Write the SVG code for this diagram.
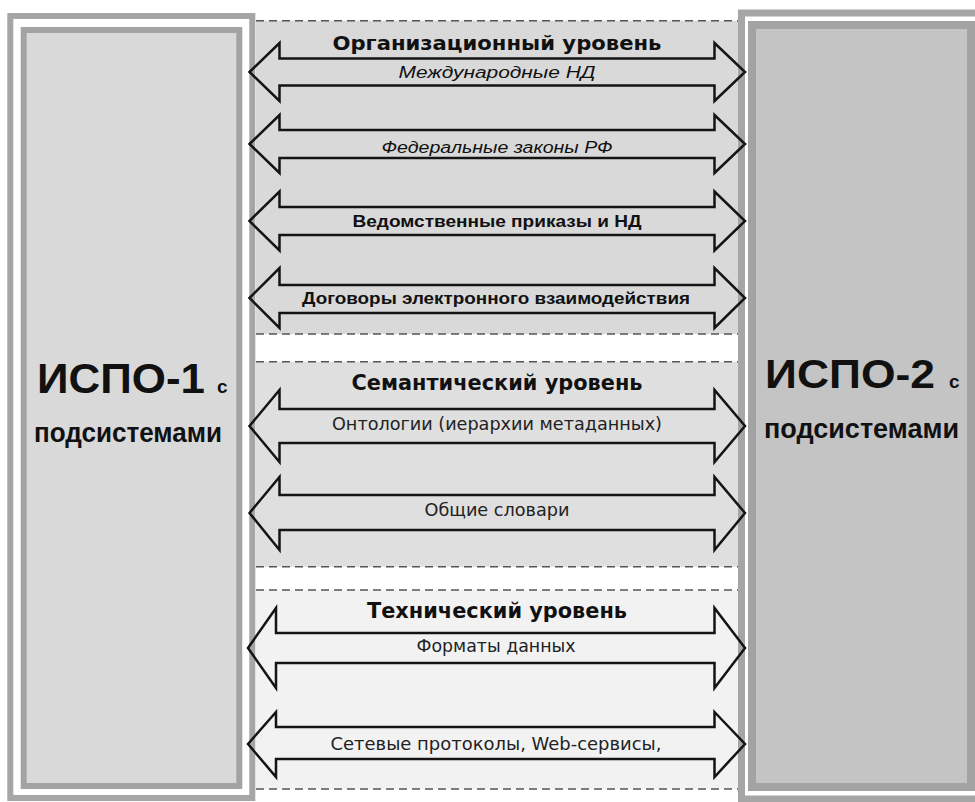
<svg xmlns="http://www.w3.org/2000/svg" width="975" height="802" viewBox="0 0 975 802">
  <style>
    .outer { fill: #ffffff; stroke: #a6a6a6; }
    .dash { stroke: #555555; stroke-width: 1.5; stroke-dasharray: 8 5; fill: none; }
    .arrow { fill: none; stroke: #141414; stroke-width: 2.5; stroke-linejoin: miter; }
    .big { font-family: "Liberation Sans", Arial, sans-serif; font-weight: bold; fill: #111; }
    .title { font-family: "DejaVu Sans", Verdana, sans-serif; font-weight: bold; fill: #111; text-anchor: middle; }
    .org { font-family: "Liberation Sans", Arial, sans-serif; fill: #111; text-anchor: middle; font-size: 16px; }
    .lbl { font-family: "DejaVu Sans", Verdana, sans-serif; fill: #222; text-anchor: middle; font-size: 17.5px; }
  </style>
  <rect width="975" height="802" fill="#ffffff"/>

  <g id="sections">
    <rect x="256" y="20.7" width="483" height="313.3" fill="#d9d9d9"/>
    <rect x="256" y="361.7" width="483" height="205" fill="#dfdfdf"/>
    <rect x="256" y="590" width="483" height="199" fill="#f2f2f2"/>
    <line class="dash" x1="256" y1="20.7" x2="739" y2="20.7"/>
    <line class="dash" x1="256" y1="334" x2="739" y2="334"/>
    <line class="dash" x1="256" y1="361.7" x2="739" y2="361.7"/>
    <line class="dash" x1="256" y1="566.7" x2="739" y2="566.7"/>
    <line class="dash" x1="256" y1="590" x2="739" y2="590"/>
    <line class="dash" x1="256" y1="789" x2="739" y2="789"/>
    <text class="title" x="497" y="50" font-size="19" textLength="329" lengthAdjust="spacingAndGlyphs">Организационный уровень</text>
    <text class="title" x="497" y="390" font-size="21" textLength="291" lengthAdjust="spacingAndGlyphs">Семантический уровень</text>
    <text class="title" x="497" y="618" font-size="21" textLength="260" lengthAdjust="spacingAndGlyphs">Технический уровень</text>
  </g>

  <g id="ispo1">
    <rect class="outer" x="10.3" y="16" width="242" height="782" stroke-width="6"/>
    <rect x="23.7" y="30" width="215.6" height="756" fill="#d9d9d9" stroke="#a3a3a3" stroke-width="6"/>
    <text class="big" x="37" y="393" font-size="43" textLength="168" lengthAdjust="spacingAndGlyphs">ИСПО-1</text>
    <text class="big" x="217" y="393" font-size="19">с</text>
    <text class="big" x="34" y="442" font-size="28" textLength="188" lengthAdjust="spacingAndGlyphs">подсистемами</text>
  </g>

  <g id="ispo2">
    <rect class="outer" x="741.5" y="13" width="240" height="786" stroke-width="7"/>
    <rect x="752" y="25" width="219" height="762" fill="#c4c4c4" stroke="#a3a3a3" stroke-width="8"/>
    <text class="big" x="765" y="388" font-size="41" textLength="170" lengthAdjust="spacingAndGlyphs">ИСПО-2</text>
    <text class="big" x="949" y="388" font-size="19">с</text>
    <text class="big" x="764" y="438" font-size="27" textLength="195" lengthAdjust="spacingAndGlyphs">подсистемами</text>
  </g>

  <g id="connectors">
    <path class="arrow" d="M249.5,72 L279.5,43 L279.5,58.5 L714.5,58.5 L714.5,43 L745,72 L714.5,101 L714.5,85.5 L279.5,85.5 L279.5,101 Z"/>
    <path class="arrow" d="M249.5,144 L279.5,115 L279.5,130 L714.5,130 L714.5,115 L745,144 L714.5,173 L714.5,158 L279.5,158 L279.5,173 Z"/>
    <path class="arrow" d="M249.5,221 L279.5,191.5 L279.5,207 L714.5,207 L714.5,191.5 L745,221 L714.5,250.5 L714.5,235 L279.5,235 L279.5,250.5 Z"/>
    <path class="arrow" d="M249.5,298 L279.5,268 L279.5,285 L714.5,285 L714.5,268 L745,298 L714.5,328 L714.5,313 L279.5,313 L279.5,328 Z"/>
    <path class="arrow" d="M249.5,426 L279.5,390 L279.5,409 L714.5,409 L714.5,390 L745,426 L714.5,462 L714.5,443 L279.5,443 L279.5,462 Z"/>
    <path class="arrow" d="M249.5,513 L279.5,477 L279.5,495 L714.5,495 L714.5,477 L745,513 L714.5,550 L714.5,530 L279.5,530 L279.5,550 Z"/>
    <path class="arrow" d="M248,648 L276,608 L276,633 L714.5,633 L714.5,608 L745,648 L714.5,688 L714.5,663 L276,663 L276,688 Z"/>
    <path class="arrow" d="M248,744 L276,712 L276,727 L714.5,727 L714.5,712 L745,744 L714.5,777 L714.5,759 L276,759 L276,777 Z"/>
    <text class="org" x="497" y="78" font-style="italic" textLength="197" lengthAdjust="spacingAndGlyphs">Международные НД</text>
    <text class="org" x="497" y="153" font-style="italic" textLength="231" lengthAdjust="spacingAndGlyphs">Федеральные законы РФ</text>
    <text class="org" x="497" y="227" font-weight="bold" textLength="289" lengthAdjust="spacingAndGlyphs">Ведомственные приказы и НД</text>
    <text class="org" x="496" y="304" font-weight="bold" textLength="388" lengthAdjust="spacingAndGlyphs">Договоры электронного взаимодействия</text>
    <text class="lbl" x="497" y="430" textLength="330" lengthAdjust="spacingAndGlyphs">Онтологии (иерархии метаданных)</text>
    <text class="lbl" x="497" y="516" textLength="145" lengthAdjust="spacingAndGlyphs">Общие словари</text>
    <text class="lbl" x="496" y="652" textLength="159" lengthAdjust="spacingAndGlyphs">Форматы данных</text>
    <text class="lbl" x="496" y="750" textLength="331" lengthAdjust="spacingAndGlyphs">Сетевые протоколы, Web-сервисы,</text>
  </g>
</svg>
